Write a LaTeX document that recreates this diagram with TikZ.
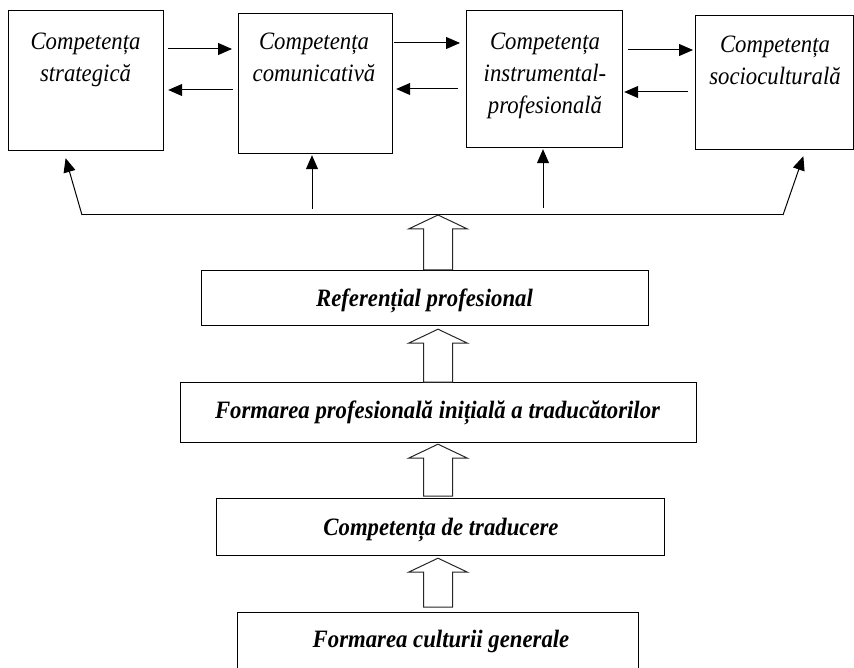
\documentclass[tikz,border=0pt]{standalone}
\usepackage{fontspec}
\setmainfont{Liberation Serif}
\usetikzlibrary{arrows.meta,calc}
\newcommand{\sqz}[1]{\scalebox{0.91}[1]{#1}}
\tikzset{
  box/.style={draw=black, line width=1.2pt, inner sep=0pt, rectangle},
  toplab/.style={inner sep=0pt, align=center, anchor=north, font=\fontsize{25}{32}\selectfont\itshape},
  botlab/.style={inner sep=0pt, anchor=base, font=\fontsize{25}{28}\selectfont\bfseries\itshape},
  arr/.style={draw=black, line width=1pt, -{Triangle[length=14pt,width=12pt]}},
  conn/.style={draw=black, line width=1pt},
  block/.style={draw=black!85, line width=1pt, fill=white, line join=miter}
}
\newcommand{\blockarrow}[2]{%
  \path let \p1=#1, \p2=#2 in
    [block] (\x1-14.5pt,\y1) -- (\x1-14.5pt,\y2-14pt) -- (\x1-29.5pt,\y2-14pt)
    -- (\x1,\y2) -- (\x1+29.5pt,\y2-14pt) -- (\x1+14.5pt,\y2-14pt)
    -- (\x1+14.5pt,\y1) -- cycle;}
\begin{document}
\begin{tikzpicture}[x=1pt,y=-1pt]
\useasboundingbox (0,0) rectangle (854,668);
\clip (0,0) rectangle (854,668);
% top boxes
\node[box, minimum width=155pt, minimum height=140pt, anchor=north west] (b1) at (8,10) {};
\node[box, minimum width=154pt, minimum height=140pt, anchor=north west] (b2) at (238,13) {};
\node[box, minimum width=156pt, minimum height=137pt, anchor=north west] (b3) at (466,10) {};
\node[box, minimum width=157.5pt, minimum height=134pt, anchor=north west] (b4) at (695,15) {};
\node[toplab] (t1) at (85.5,33) {\sqz{Competența}\\\sqz{strategică}};
\node[toplab] (t2) at (314,33) {\sqz{Competența}\\\sqz{comunicativă}};
\node[toplab] (t3) at (545,33) {\sqz{Competența}\\\sqz{instrumental-}\\\sqz{profesională}};
\node[toplab] (t4) at (775,36) {\sqz{Competența}\\\sqz{socioculturală}};
% horizontal arrows
\draw[arr] (b1.east |- 0,49) ++(4,0) -- ($(b2.west |- 0,49)+(-6,0)$);
\draw[arr] (b2.west |- 0,90) ++(-5,0) -- ($(b1.east |- 0,90)+(4,0)$);
\draw[arr] (b2.east |- 0,43) ++(1,0) -- ($(b3.west |- 0,43)+(-6,0)$);
\draw[arr] (b3.west |- 0,89) ++(-8,0) -- ($(b2.east |- 0,89)+(3,0)$);
\draw[arr] (b3.east |- 0,50) ++(5,0) -- ($(b4.west |- 0,50)+(-2,0)$);
\draw[arr] (b4.west |- 0,92) ++(-7,0) -- ($(b3.east |- 0,92)+(1,0)$);
% distribution line
\coordinate (L) at (82,215);
\coordinate (R) at (783,215);
\draw[conn] (L) -- (R);
\draw[arr] (L) -- ($(b1.south)+(-20.5,7)$);
\draw[arr] (312,209) -- ($(b2.south -| 312,0)+(0,1)$);
\draw[arr] (543,208) -- ($(b3.south -| 543,0)+(0,1)$);
\draw[arr] (R) -- ($(b4.south)+(29,6)$);
% lower boxes
\node[box, minimum width=447pt, minimum height=55pt, anchor=north west] (ref) at (201,270) {};
\node[box, minimum width=516pt, minimum height=60pt, anchor=north west] (fpi) at (180,382) {};
\node[box, minimum width=448pt, minimum height=57pt, anchor=north west] (ct) at (216,498) {};
\node[box, minimum width=401pt, minimum height=80pt, anchor=north west] (fcg) at (237,612) {};
\node[botlab] (tref) at (424.5,306) {\sqz{Referențial profesional}};
\node[botlab] (tfpi) at (437.5,418) {\sqz{Formarea profesională inițială a traducătorilor}};
\node[botlab] (tct) at (441,535) {\sqz{Competența de traducere}};
\node[botlab] (tfcg) at (441,647) {\sqz{Formarea culturii generale}};
% block arrows
\coordinate (ax) at (438,0);
\blockarrow{(ref.north -| ax)}{(L -| ax)}
\blockarrow{(fpi.north -| ax)}{($(ref.south -| ax)+(0,3)$)}
\blockarrow{($(ct.north -| ax)+(0,-2)$)}{($(fpi.south -| ax)+(0,1)$)}
\blockarrow{($(fcg.north -| ax)+(0,-5)$)}{($(ct.south -| ax)+(0,2)$)}
\end{tikzpicture}
\end{document}
